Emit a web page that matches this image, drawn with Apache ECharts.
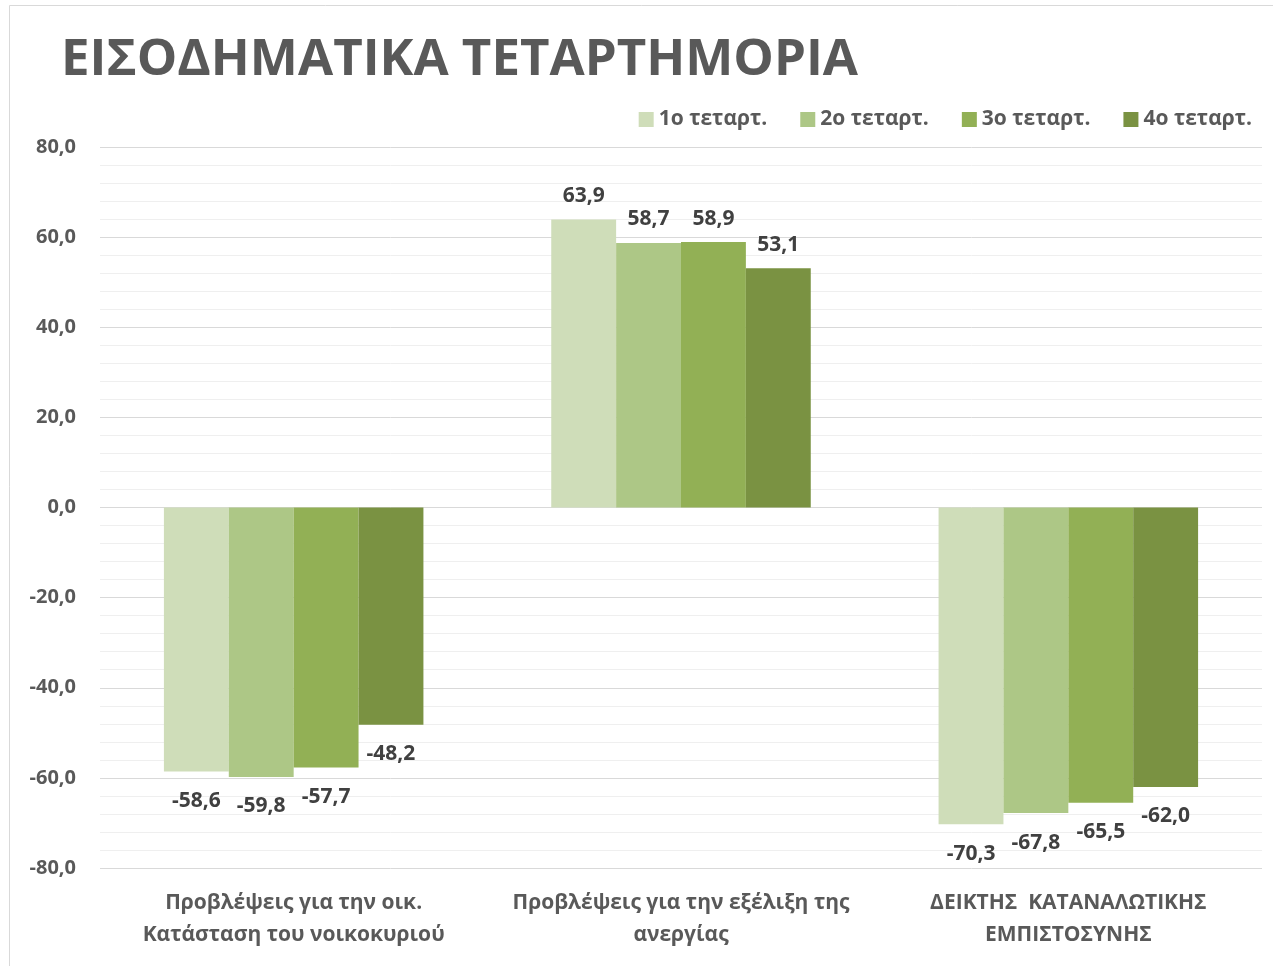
<!DOCTYPE html>
<html><head><meta charset="utf-8">
<script src="https://cdn.jsdelivr.net/npm/echarts@6/dist/echarts.min.js"></script>
<style>html,body{margin:0;padding:0;background:#fff}#c{width:1273px;height:966px}</style>
</head><body><div id="c"></div>
<script>
const title = 'ΕΙΣΟΔΗΜΑΤΙΚΑ ΤΕΤΑΡΤΗΜΟΡΙΑ';
const categories = ['Προβλέψεις για την οικ.\nΚατάσταση του νοικοκυριού', 'Προβλέψεις για την εξέλιξη της\nανεργίας', 'ΔΕΙΚΤΗΣ  ΚΑΤΑΝΑΛΩΤΙΚΗΣ\nΕΜΠΙΣΤΟΣΥΝΗΣ'];
const seriesNames = ['1ο τεταρτ.', '2ο τεταρτ.', '3ο τεταρτ.', '4ο τεταρτ.'];
const q1 = [-58.6, 63.9, -70.3];
const q2 = [-59.8, 58.7, -67.8];
const q3 = [-57.7, 58.9, -65.5];
const q4 = [-48.2, 53.1, -62.0];
const colors = ['#cfddb9', '#adc786', '#92b055', '#7a9242'];
const yMin = -80, yMax = 80, yStep = 20;

const fmt = v => v.toFixed(1).replace('.', ',');
const FONT = '"Open Sans", sans-serif';
const allData = [q1, q2, q3, q4];

const series = allData.map((arr, i) => ({
  name: seriesNames[i],
  type: 'bar',
  barGap: '0%',
  barCategoryGap: '33%',
  itemStyle: { color: colors[i] },
  data: arr.map(v => ({
    value: v,
    label: {
      show: true,
      position: v >= 0 ? 'top' : 'bottom',
      distance: v >= 0 ? 13 : 19,
      formatter: p => fmt(p.value),
      color: '#404040',
      fontFamily: FONT,
      fontWeight: 'bold',
      fontSize: 21
    }
  }))
}));

const chart = echarts.init(document.getElementById('c'), null, { renderer: 'canvas' });
chart.setOption({
  animation: false,
  backgroundColor: '#fff',
  title: {
    text: title, left: 56, top: 30,
    textStyle: { color: '#595959', fontFamily: FONT, fontWeight: 'bold', fontSize: 51 }
  },
  graphic: [{
    type: 'rect', shape: { x: 9.5, y: 5.5, width: 1300, height: 1000 },
    style: { fill: 'none', stroke: '#d9d9d9', lineWidth: 1 }, silent: true
  }],
  legend: {
    right: 16, top: 104, itemWidth: 15, itemHeight: 15, itemGap: 33,
    icon: 'rect',
    textStyle: { color: '#595959', fontFamily: FONT, fontWeight: 'bold', fontSize: 21 },
    data: seriesNames
  },
  grid: { left: 100, right: 11, top: 147, bottom: 98, containLabel: false },
  xAxis: {
    type: 'category', data: categories,
    axisLine: { show: false, onZero: false },
    axisTick: { show: false },
    axisLabel: {
      margin: 19, color: '#595959', fontFamily: FONT, fontWeight: 'bold',
      fontSize: 21, lineHeight: 32, interval: 0
    }
  },
  yAxis: {
    type: 'value', min: yMin, max: yMax, interval: yStep,
    axisLine: { show: false }, axisTick: { show: false },
    axisLabel: {
      formatter: v => fmt(v), color: '#595959', fontFamily: FONT,
      fontWeight: 'bold', fontSize: 20, margin: 24
    },
    splitLine: { lineStyle: { color: '#d9d9d9', width: 1 } },
    minorTick: { show: false, splitNumber: 5 },
    minorSplitLine: { show: true, lineStyle: { color: '#efefef', width: 1 } }
  },
  series
});
</script>
</body></html>
